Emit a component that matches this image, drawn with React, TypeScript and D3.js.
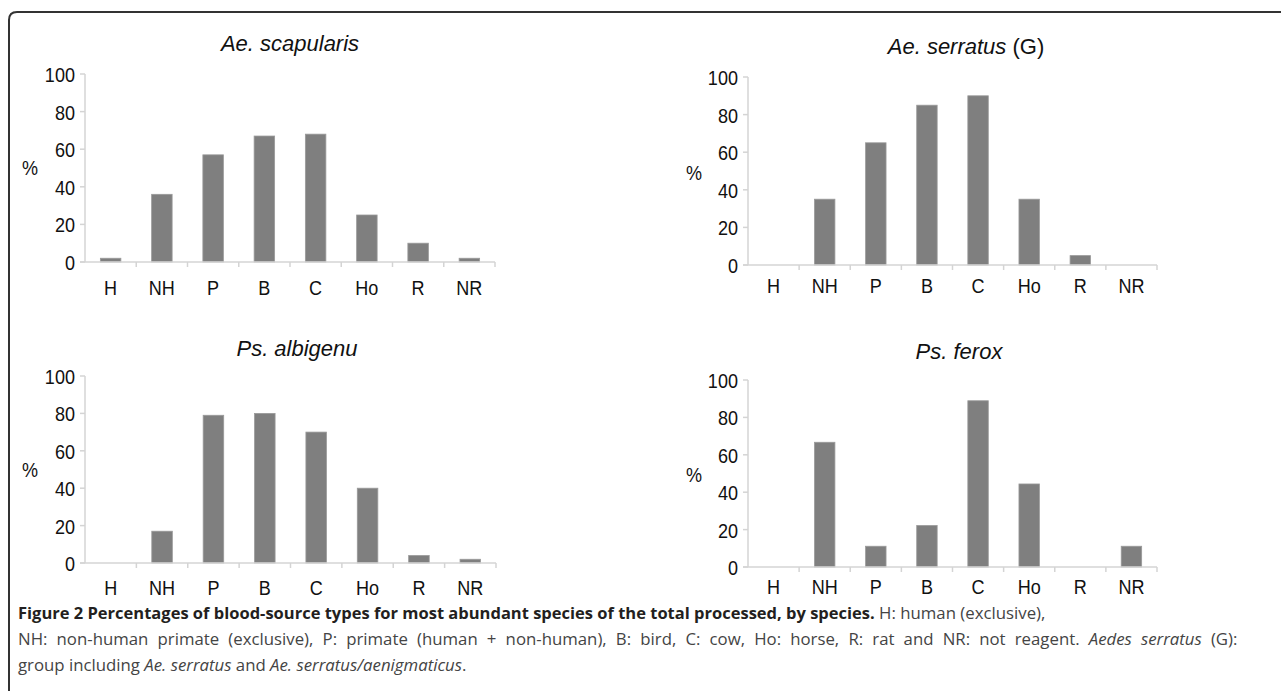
import React from "react";
import * as d3 from "d3";

const categories = ["H", "NH", "P", "B", "C", "Ho", "R", "NR"];
const yTicks = [0, 20, 40, 60, 80, 100];

const scapularis = [2, 36, 57, 67, 68, 25, 10, 2];
const serratus = [0, 35, 65, 85, 90, 35, 5, 0];
const albigenu = [0, 17, 79, 80, 70, 40, 4, 2];
const ferox = [0, 66.7, 11.1, 22.2, 88.9, 44.4, 0, 11.1];

const titles = [
  { it: "Ae. scapularis", rest: "" },
  { it: "Ae. serratus", rest: " (G)" },
  { it: "Ps. albigenu", rest: "" },
  { it: "Ps. ferox", rest: "" },
];

const panels = [
  { values: scapularis, ax: 85, y0: 262, y1: 74, xEnd: 495, tx: 290, ty: 51, px: 30, py: 175, lb: 295 },
  { values: serratus, ax: 748, y0: 265, y1: 77, xEnd: 1157, tx: 966, ty: 54, px: 694, py: 180, lb: 293 },
  { values: albigenu, ax: 85, y0: 563, y1: 376, xEnd: 496, tx: 297, ty: 356, px: 30, py: 477, lb: 595 },
  { values: ferox, ax: 748, y0: 567, y1: 380, xEnd: 1157, tx: 959, ty: 359, px: 694, py: 482, lb: 594 },
];

const AXIS = "#d4d4d4";
const BAR = "#7f7f7f";
const FONT = "'Liberation Sans', Arial, sans-serif";
const CAP = "'Open Sans', sans-serif";
const SX = 0.86;

function CText({ x, y, anchor, size, children }: any) {
  return (
    <text transform={`translate(${x},${y}) scale(${SX},1)`} textAnchor={anchor} fontFamily={FONT} fontSize={size} fill="#111">
      {children}
    </text>
  );
}

function Panel({ p, t }: any) {
  const x = d3.scaleBand<string>().domain(categories).range([p.ax, p.xEnd]).paddingInner(0).paddingOuter(0);
  const y = d3.scaleLinear().domain([0, 100]).range([p.y0, p.y1]);
  const bw = x.bandwidth() * 0.4;
  return (
    <g>
      <text x={p.tx} y={p.ty} textAnchor="middle" fontFamily={FONT} fontSize={22} fill="#111">
        <tspan fontStyle="italic">{t.it}</tspan>
        {t.rest ? <tspan>{t.rest}</tspan> : null}
      </text>
      <CText x={p.px} y={p.py} anchor="middle" size={21}>%</CText>
      {p.values.map((v: number, i: number) => {
        const c = categories[i];
        const cx = (x(c) as number) + x.bandwidth() / 2;
        if (v <= 0) return null;
        return (
          <rect key={c} x={cx - bw / 2} y={y(v)} width={bw} height={p.y0 - y(v)} fill={BAR} stroke="#9a9a9a" strokeWidth={0.8} />
        );
      })}
      <line x1={p.ax} x2={p.ax} y1={y(100)} y2={p.y0} stroke={AXIS} strokeWidth={1.5} />
      <line x1={p.ax - 5} x2={p.xEnd} y1={p.y0} y2={p.y0} stroke={AXIS} strokeWidth={1.5} />
      {yTicks.map((tk) => (
        <g key={tk}>
          <line x1={p.ax - 5} x2={p.ax} y1={y(tk)} y2={y(tk)} stroke={AXIS} strokeWidth={1.5} />
          <CText x={p.ax - 10} y={y(tk) + 8} anchor="end" size={21}>{tk}</CText>
        </g>
      ))}
      {categories.map((c) => (
        <line key={"t" + c} x1={(x(c) as number) + x.bandwidth()} x2={(x(c) as number) + x.bandwidth()} y1={p.y0} y2={p.y0 + 5} stroke={AXIS} strokeWidth={1.5} />
      ))}
      {categories.map((c) => (
        <CText key={"l" + c} x={(x(c) as number) + x.bandwidth() / 2} y={p.lb} anchor="middle" size={21}>{c}</CText>
      ))}
    </g>
  );
}

export default function App() {
  return (
    <svg width={1281} height={691} style={{ position: "absolute", left: 0, top: 0, background: "#fff" }}>
      <rect x={0} y={0} width={1281} height={691} fill="#fff" />
      <path d="M9,700 L9,20 Q9,12 17,12 L1290,12" fill="none" stroke="#333" strokeWidth={2} />
      {panels.map((p, i) => (
        <Panel key={i} p={p} t={titles[i]} />
      ))}
      <g fontFamily={CAP} fontSize={16.8}>
        <text x={18} y={619}>
          <tspan fontWeight="bold" fill="#231f20" fontSize={16.5}>Figure 2 Percentages of blood-source types for most abundant species of the total processed, by species.</tspan>
          <tspan fill="#444"> H: human (exclusive),</tspan>
        </text>
        <text x={18} y={645} fill="#444" wordSpacing={4.8}>
          NH: non-human primate (exclusive), P: primate (human + non-human), B: bird, C: cow, Ho: horse, R: rat and NR: not reagent. <tspan fontStyle="italic">Aedes serratus</tspan> (G):
        </text>
        <text x={18} y={671} fill="#444">
          group including <tspan fontStyle="italic">Ae. serratus</tspan> and <tspan fontStyle="italic">Ae. serratus/aenigmaticus</tspan>.
        </text>
      </g>
    </svg>
  );
}
